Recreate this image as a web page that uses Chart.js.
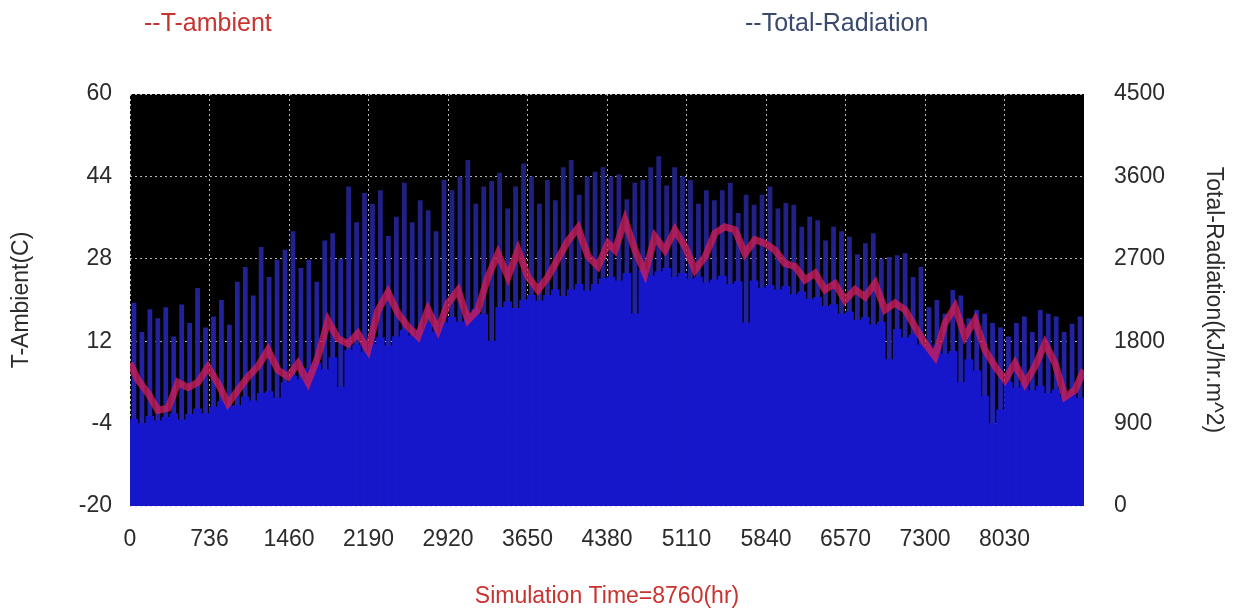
<!DOCTYPE html>
<html>
<head>
<meta charset="utf-8">
<title>T-ambient / Total-Radiation</title>
<script src="https://cdn.jsdelivr.net/npm/chart.js@4.4.1/dist/chart.umd.min.js"></script>
<style>
  html, body { margin: 0; padding: 0; background: #fff; }
  #wrap { position: relative; width: 1235px; height: 610px; font-family: "Liberation Sans", Arial, sans-serif; }
  .legend-item { position: absolute; top: 8px; font-size: 25px; line-height: 28px; white-space: nowrap; }
  #leg-temp { left: 144px; color: #c8322f; }
  #leg-rad { left: 745px; color: #3a4a6e; }
</style>
</head>
<body>
<div id="wrap">
  <canvas id="chart" width="1235" height="610"></canvas>
  <span class="legend-item" id="leg-temp">--T-ambient</span>
  <span class="legend-item" id="leg-rad">--Total-Radiation</span>
</div>
<script>
// Values (hourly simulation, 8760 hr)

// T-ambient (C), sampled along the red band
const tempHours = [
  0, 73, 165, 257, 349, 441, 532, 624, 716, 808,
  900, 992, 1083, 1175, 1267, 1359, 1451, 1543, 1634, 1726,
  1818, 1910, 2002, 2093, 2185, 2277, 2369, 2461, 2553, 2644,
  2736, 2828, 2920, 3012, 3104, 3195, 3287, 3379, 3471, 3563,
  3654, 3746, 3838, 3930, 4022, 4114, 4205, 4297, 4389,
  4453, 4545, 4637, 4729, 4820, 4912, 5004, 5096, 5188, 5280,
  5371, 5463, 5555, 5647, 5739, 5831, 5922, 6014, 6106, 6198,
  6290, 6382, 6473, 6565, 6657, 6749, 6841, 6933, 7024, 7116,
  7208, 7300, 7392, 7484, 7575, 7667, 7759, 7851, 7943, 8035,
  8126, 8218, 8310, 8402, 8494, 8586, 8677, 8760,
];
const tempValues = [
  7.7, 4.5, 1.9, -1.4, -1.0, 4.0, 3.0, 4.0, 7.0, 3.8,
  -0.1, 2.5, 5.1, 7.1, 10.3, 6.4, 5.1, 7.7, 4.0, 9.0,
  16.0, 12.5, 11.5, 13.5, 10.3, 18.0, 21.5, 17.4, 14.8, 12.9,
  18.1, 14.2, 19.4, 21.9, 16.1, 18.1, 24.5, 29.0, 24.5, 29.7,
  24.5, 21.9, 24.5, 28.0, 31.5, 34.0, 28.5, 26.5, 31.0,
  29.7, 35.5, 29.7, 25.2, 32.3, 29.7, 33.6, 30.4, 25.8, 28.4,
  33.0, 34.2, 33.6, 29.0, 31.7, 31.0, 29.7, 27.1, 26.5, 23.9,
  25.2, 22.0, 23.2, 20.0, 22.0, 20.6, 23.2, 18.1, 19.4, 18.1,
  14.8, 11.6, 9.0, 15.5, 18.7, 12.9, 16.1, 10.3, 7.1, 4.5,
  7.7, 3.8, 7.1, 11.6, 7.7, 1.2, 2.5, 6.4,
];

// Total radiation (kJ/hr.m^2), one sample every 73 hr
const RAD_STEP = 73;
// tops of the spikes
const radPeak = [
  2220, 1900, 2150, 2050, 2170, 1850, 2200, 2000, 2380, 1950,
  2070, 2250, 1980, 2450, 2610, 2300, 2830, 2500, 2690, 2800,
  3000, 2600, 2690, 2450, 2900, 2980, 2700, 3490, 3100, 3420,
  3300, 3450, 2950, 3160, 3530, 3100, 3340, 3230, 3000, 3560,
  3450, 3600, 3780, 3300, 3490, 3550, 3640, 3250, 3490, 3740,
  3600, 3300, 3560, 3340, 3700, 3780, 3400, 3600, 3650, 3700,
  3600, 3620, 3350, 3530, 3560, 3700, 3820, 3500, 3700, 3600,
  3560, 3300, 3450, 3340, 3450, 3530, 3200, 3400, 3290, 3400,
  3490, 3250, 3310, 3290, 3050, 3160, 3120, 2900, 3050, 3000,
  2940, 2750, 2870, 2980, 2700, 2720, 2740, 2760, 2500, 2610,
  2170, 2250, 2100, 2360, 2300, 2050, 2140, 2100, 2000, 1950,
  1850, 2000, 2070, 1900, 2140, 2100, 2070, 1900, 1990, 2070,
];
// level of the solid bright body
const radBase = [
  950, 900, 980, 930, 970, 1010, 940, 1000, 1060, 1010,
  1080, 1140, 1090, 1100, 1190, 1150, 1230, 1250, 1180, 1350,
  1420, 1380, 1500, 1560, 1490, 1620, 1300, 1700, 1760, 1680,
  1770, 1840, 1750, 1850, 1920, 1860, 1920, 1990, 1900, 2000,
  2060, 2010, 2080, 2150, 2090, 1800, 2170, 2230, 2160, 2250,
  2300, 2240, 2300, 2360, 2290, 2360, 2420, 2350, 2420, 2480,
  2500, 2460, 2540, 2100, 2580, 2510, 2560, 2600, 2500, 2540,
  2480, 2500, 2440, 2470, 2510, 2420, 2450, 2000, 2460, 2380,
  2410, 2360, 2400, 2310, 2340, 2260, 2280, 2180, 2200, 2100,
  2120, 2030, 2060, 1980, 2010, 1600, 1930, 1840, 1870, 1760,
  1720, 1760, 1660, 1690, 1350, 1600, 1480, 1200, 900, 1050,
  1350, 1290, 1340, 1260, 1310, 1230, 1270, 1190, 1230, 1180,
];

const xTicks = [0, 730, 1460, 2190, 2920, 3650, 4380, 5110, 5840, 6570, 7300, 8030];
const xTickLabels = ["0", "736", "1460", "2190", "2920", "3650", "4380", "5110", "5840", "6570", "7300", "8030"];

const FONT = "'Liberation Sans', Arial, sans-serif";
const TEXT = "#2b2b2b";

function toPoints(xs, ys) {
  return ys.map((v, i) => ({ x: xs[i], y: v }));
}

const radHours = radPeak.map((_, i) => i * RAD_STEP + RAD_STEP / 2);

// black plot background
const plotBackground = {
  id: "plotBackground",
  beforeDraw(chart) {
    const { ctx, chartArea } = chart;
    ctx.save();
    ctx.fillStyle = "#000";
    ctx.fillRect(chartArea.left, chartArea.top, chartArea.right - chartArea.left, chartArea.bottom - chartArea.top);
    ctx.restore();
  },
};

// spikes fade from mid blue at the bottom to dark blue at the top
function spikeFill(context) {
  const { ctx, chartArea } = context.chart;
  if (!chartArea) return "rgb(32, 32, 150)";
  const g = ctx.createLinearGradient(0, chartArea.bottom, 0, chartArea.top);
  g.addColorStop(0, "rgb(34, 34, 185)");
  g.addColorStop(0.55, "rgb(34, 34, 150)");
  g.addColorStop(1, "rgb(30, 30, 105)");
  return g;
}

const dottedGrid = {
  color: "rgba(215, 215, 215, 0.85)",
  lineWidth: 1,
  drawTicks: false,
  offset: false,
};

new Chart(document.getElementById("chart"), {
  type: "bar",
  data: {
    datasets: [
      {
        type: "line",
        label: "T-ambient",
        data: toPoints(tempHours, tempValues),
        yAxisID: "yT",
        borderColor: "rgba(210, 30, 85, 0.76)",
        borderWidth: 7,
        pointRadius: 0,
        tension: 0,
        order: 0,
      },
      {
        label: "Total-Radiation body",
        data: toPoints(radHours, radBase),
        yAxisID: "yR",
        backgroundColor: "rgb(22, 22, 202)",
        barPercentage: 1,
        categoryPercentage: 1,
        grouped: false,
        order: 1,
      },
      {
        label: "Total-Radiation",
        data: toPoints(radHours, radPeak),
        yAxisID: "yR",
        backgroundColor: spikeFill,
        barPercentage: 0.6,
        categoryPercentage: 1,
        grouped: false,
        order: 2,
      },
    ],
  },
  options: {
    responsive: false,
    animation: false,
    layout: { padding: { top: 94, left: 0, right: 0, bottom: 0 } },
    plugins: {
      legend: { display: false },
      tooltip: { enabled: false },
    },
    scales: {
      x: {
        type: "linear",
        position: "bottom",
        offset: false,
        min: 0,
        max: 8760,
        z: 1,
        afterBuildTicks: (scale) => {
          scale.ticks = xTicks.map((v) => ({ value: v }));
        },
        afterFit: (scale) => {
          scale.height = 104;
        },
        ticks: {
          autoSkip: false,
          maxRotation: 0,
          padding: 20,
          color: TEXT,
          font: { family: FONT, size: 23 },
          callback: (value) => {
            const i = xTicks.indexOf(value);
            return i >= 0 ? xTickLabels[i] : "";
          },
        },
        grid: dottedGrid,
        border: { display: false, dash: [2, 3] },
        title: {
          display: true,
          text: "Simulation Time=8760(hr)",
          color: "#c8322f",
          font: { family: FONT, size: 23 },
          padding: { top: 4, bottom: 0 },
        },
      },
      yT: {
        type: "linear",
        position: "left",
        min: -20,
        max: 60,
        z: 1,
        afterFit: (scale) => {
          scale.width = 130;
        },
        ticks: {
          stepSize: 16,
          padding: 18,
          color: TEXT,
          font: { family: FONT, size: 23 },
          callback: (value) => String(value),
        },
        grid: dottedGrid,
        border: { display: false, dash: [2, 3] },
        title: {
          display: true,
          text: "T-Ambient(C)",
          color: TEXT,
          font: { family: FONT, size: 23 },
          padding: { top: 8, bottom: 0 },
        },
      },
      yR: {
        type: "linear",
        position: "right",
        min: 0,
        max: 4500,
        z: 1,
        afterFit: (scale) => {
          scale.width = 151;
        },
        ticks: {
          stepSize: 900,
          padding: 22,
          color: TEXT,
          font: { family: FONT, size: 23 },
          callback: (value) => String(value),
        },
        grid: { display: false },
        border: { display: false },
        title: {
          display: true,
          text: "Total-Radiation(kJ/hr.m^2)",
          color: TEXT,
          font: { family: FONT, size: 23 },
          padding: { top: 8, bottom: 0 },
        },
      },
    },
  },
  plugins: [plotBackground],
});
</script>
</body>
</html>
